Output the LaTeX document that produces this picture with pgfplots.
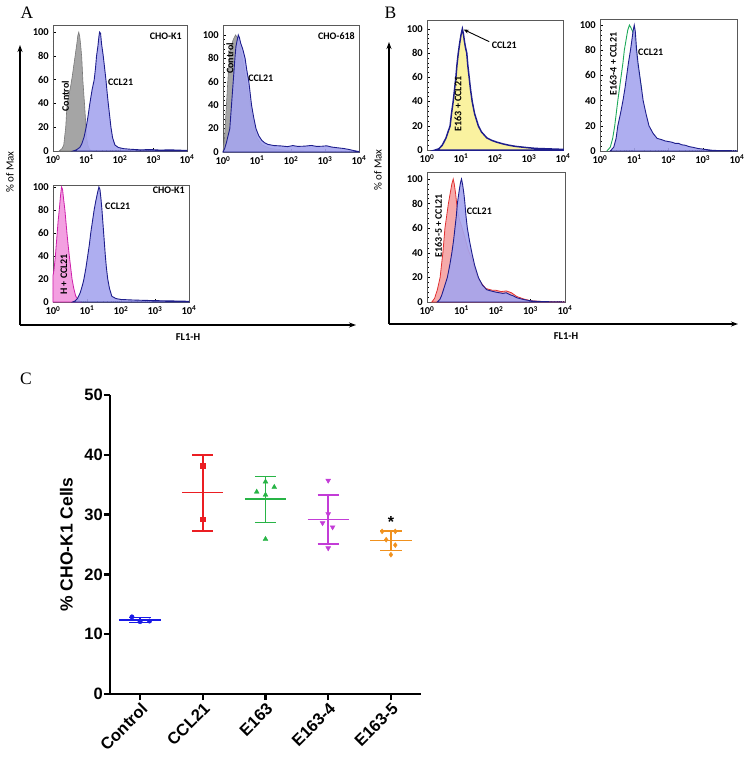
\documentclass[border=0pt]{standalone}
\usepackage{fontspec}
\usepackage{pgfplots}
\pgfplotsset{compat=1.18}
\usetikzlibrary{arrows.meta}
\setmainfont{Carlito}
\newfontfamily\calfont{Carlito}[BoldFont={Carlito Bold}]
\newfontfamily\arialfont{Liberation Sans}
\newfontfamily\seriffont{Liberation Serif}

\definecolor{navy}{RGB}{30,30,140}
\definecolor{lav}{RGB}{165,165,238}
\definecolor{grayfill}{RGB}{165,165,165}
\definecolor{grayline}{RGB}{120,120,120}
\definecolor{magline}{RGB}{205,30,170}
\definecolor{magfill}{RGB}{243,160,225}
\definecolor{yelfill}{RGB}{250,242,160}
\definecolor{grnline}{RGB}{30,170,90}
\definecolor{redline}{RGB}{225,50,50}
\definecolor{redfill}{RGB}{246,170,170}
\definecolor{cblue}{RGB}{25,25,230}
\definecolor{cred}{RGB}{235,30,35}
\definecolor{cgreen}{RGB}{40,180,70}
\definecolor{cmag}{RGB}{195,60,215}
\definecolor{corange}{RGB}{240,145,30}

\tikzset{ann/.style={font=\calfont\bfseries\fontsize{10}{11}\selectfont}}
\pgfplotsset{
 hist/.style={
  scale only axis, xmin=0, xmax=4, ymin=0,
  axis line style={draw=black!65, line width=0.9pt},
  xtick={0,1,2,3,4},
  xticklabels={10\textsuperscript{0},10\textsuperscript{1},10\textsuperscript{2},10\textsuperscript{3},10\textsuperscript{4}},
  minor xtick={0.301,0.477,0.602,0.699,0.778,0.845,0.903,0.954,1.301,1.477,1.602,1.699,1.778,1.845,1.903,1.954,2.301,2.477,2.602,2.699,2.778,2.845,2.903,2.954,3.301,3.477,3.602,3.699,3.778,3.845,3.903,3.954},
  ytick={0,20,40,60,80,100}, yticklabels={0,20,40,60,80,100},
  minor y tick num=4,
  xtick pos=left, ytick pos=left,
  tick align=inside,
  major tick length=3pt, minor tick length=1.5pt,
  every tick/.style={black, line width=0.5pt},
  tick label style={font=\calfont\bfseries\fontsize{10.5}{11}\selectfont, text=black},
  xticklabel style={inner sep=1pt, yshift=-3pt},
  yticklabel style={inner sep=1pt, xshift=-3pt},
  clip=false,
 },
 cbluel/.style={draw=navy, line width=0.9pt, fill=lav, fill opacity=0.9, draw opacity=1},
}

\begin{document}
\begin{tikzpicture}
\path[use as bounding box] (0pt,0pt) rectangle (745pt,-761pt);

% ---------- Panel A ----------
\node[font=\seriffont\fontsize{17.5}{20}\selectfont] at (27pt,-12.5pt) {A};
\draw[line width=1.2pt, -{Stealth[length=7pt,width=5pt]}] (20pt,-325pt) -- (20pt,-45pt);
\draw[line width=1.2pt, -{Stealth[length=7pt,width=5pt]}] (20pt,-325pt) -- (356pt,-325pt);
\node[rotate=90, font=\calfont\fontsize{11}{12}\selectfont] at (10pt,-172pt) {\% of Max};
\node[font=\calfont\bfseries\fontsize{10.5}{12}\selectfont] at (188pt,-337pt) {FL1-H};

% A1
\begin{axis}[hist, at={(53pt,-25pt)}, anchor=north west, width=134pt, height=126pt, ymax=106]
\addplot[draw=grayline, line width=0.6pt, fill=grayfill] coordinates {
(0.18,0) (0.27,2) (0.32,5) (0.38,20) (0.42,40) (0.48,48) (0.53,55) (0.57,62) (0.62,72) (0.66,80) (0.71,90) (0.74,97) (0.77,100) (0.8,96) (0.83,88) (0.86,78) (0.89,60) (0.92,48) (0.95,36) (0.98,22) (1.01,10) (1.05,4) (1.1,1) (1.16,0)} \closedcycle;
\addplot[cbluel] coordinates {
(0.6,0) (0.7,1) (0.8,3) (0.86,6) (0.93,12) (0.99,20) (1.05,30) (1.1,40) (1.17,52) (1.23,60) (1.27,70) (1.3,80) (1.34,88) (1.37,96) (1.39,100) (1.42,99) (1.45,90) (1.5,80) (1.54,70) (1.58,60) (1.62,48) (1.65,40) (1.69,30) (1.73,20) (1.78,11) (1.85,5) (1.95,3) (2.1,2) (2.3,1.5) (2.6,1) (2.9,1.2) (3.2,0.8) (3.5,1) (3.8,0.7) (4,0.5)} \closedcycle;
\node[ann, rotate=90] at (axis cs:0.37,46) {Control};
\node[ann, anchor=west, inner sep=0pt] at (axis cs:1.64,57.6) {CCL21};
\node[ann, anchor=east, inner sep=0pt] at (axis cs:3.85,96.6) {CHO-K1};
\end{axis}

% A2
\begin{axis}[hist, at={(223pt,-25pt)}, anchor=north west, width=136pt, height=127pt, ymax=108.5]
\addplot[draw=grayline, line width=0.6pt, fill=grayfill] coordinates {
(0,0) (0.04,10) (0.1,40) (0.16,70) (0.22,88) (0.3,96) (0.37,100) (0.44,97) (0.5,90) (0.6,75) (0.7,58) (0.8,40) (0.9,24) (1.0,12) (1.15,6) (1.4,3) (2,1) (3,0.5) (4,0)} \closedcycle;
\addplot[cbluel] coordinates {
(0,0) (0.05,3) (0.1,8) (0.15,14) (0.2,20) (0.25,40) (0.3,60) (0.35,80) (0.38,90) (0.42,96) (0.45,100) (0.48,98) (0.52,93) (0.58,88) (0.65,80) (0.7,70) (0.76,60) (0.8,50) (0.84,40) (0.9,30) (0.97,20) (1.05,14) (1.14,10) (1.22,8) (1.32,6.5) (1.5,5.5) (1.7,5.2) (1.9,4.6) (2.05,5.5) (2.2,4.8) (2.4,5) (2.6,5.6) (2.75,4.8) (2.9,4.9) (3.05,5.3) (3.2,4.2) (3.4,3.5) (3.55,3) (3.7,2.2) (3.85,1.2) (4,0.4)} \closedcycle;
\node[ann, rotate=90] at (axis cs:0.2,80) {Control};
\node[ann, anchor=west, inner sep=0pt] at (axis cs:0.74,63) {CCL21};
\node[ann, anchor=east, inner sep=0pt] at (axis cs:3.88,99) {CHO-618};
\end{axis}

% A3
\begin{axis}[hist, at={(53pt,-185pt)}, anchor=north west, width=136pt, height=117pt, ymax=101.7]
\addplot[draw=magline, line width=0.8pt, fill=magfill] coordinates {
(0,0) (0,23) (0.03,28) (0.07,40) (0.11,55) (0.15,70) (0.19,82) (0.22,92) (0.25,100) (0.28,98) (0.31,90) (0.35,80) (0.38,70) (0.41,60) (0.45,48) (0.48,40) (0.52,30) (0.56,20) (0.61,12) (0.67,5) (0.74,2) (0.82,0)} \closedcycle;
\addplot[cbluel] coordinates {
(0.58,0) (0.65,1) (0.72,3) (0.8,8) (0.87,15) (0.91,20) (0.97,30) (1.02,40) (1.07,50) (1.11,60) (1.16,70) (1.21,80) (1.26,88) (1.31,95) (1.35,100) (1.38,98) (1.41,90) (1.44,80) (1.47,68) (1.49,60) (1.52,48) (1.54,40) (1.57,30) (1.61,20) (1.66,12) (1.73,5) (1.85,3) (2.0,2.2) (2.3,1.8) (2.6,1.5) (3.0,1.2) (3.4,1) (3.8,0.8) (4,0.6)} \closedcycle;
\node[ann, rotate=90] at (axis cs:0.32,24) {H + CCL21};
\node[ann, anchor=west, inner sep=0pt] at (axis cs:1.53,83) {CCL21};
\node[ann, anchor=east, inner sep=0pt] at (axis cs:3.88,97) {CHO-K1};
\end{axis}

% ---------- Panel B ----------
\node[font=\seriffont\fontsize{17.5}{20}\selectfont] at (390.5pt,-12.5pt) {B};
\draw[line width=1.2pt, -{Stealth[length=7pt,width=5pt]}] (389pt,-324pt) -- (389pt,-42pt);
\draw[line width=1.2pt, -{Stealth[length=7pt,width=5pt]}] (389pt,-324pt) -- (738pt,-324pt);
\node[rotate=90, font=\calfont\fontsize{11}{12}\selectfont] at (378pt,-170pt) {\% of Max};
\node[font=\calfont\bfseries\fontsize{10.5}{12}\selectfont] at (566pt,-336pt) {FL1-H};

% B1
\begin{axis}[hist, at={(427pt,-20pt)}, anchor=north west, width=136pt, height=130pt, ymax=107.4]
\addplot[draw=navy, line width=1.5pt, fill=yelfill] coordinates {
(0.24,0) (0.35,1) (0.45,4) (0.56,10) (0.62,15) (0.68,20) (0.72,30) (0.77,40) (0.81,50) (0.85,60) (0.88,70) (0.92,80) (0.96,88) (1.0,95) (1.04,100) (1.07,96) (1.1,90) (1.13,85) (1.17,80) (1.2,70) (1.24,60) (1.28,50) (1.33,40) (1.4,30) (1.51,20) (1.6,15) (1.76,10) (1.9,8) (2.05,6.5) (2.24,5) (2.4,4) (2.6,3) (2.93,2) (3.2,1.3) (3.5,1) (4,0.5)} \closedcycle;
\node[ann, rotate=90] at (axis cs:0.91,38) {E163 + CCL21};
\node[ann, anchor=west, inner sep=0pt] at (axis cs:1.9,86.8) {CCL21};
\draw[line width=0.9pt, -{Stealth[length=5pt,width=4pt]}] (axis cs:1.83,89.5) -- (axis cs:1.08,99.5);
\end{axis}

% B2
\begin{axis}[hist, at={(600pt,-19pt)}, anchor=north west, width=137pt, height=132pt, ymax=104.8]
\addplot[draw=grnline, line width=0.9pt] coordinates {
(0.2,0) (0.3,3) (0.37,10) (0.43,20) (0.52,40) (0.57,50) (0.62,60) (0.67,70) (0.71,80) (0.76,88) (0.81,96) (0.86,100) (0.9,98) (0.95,95) (1.0,92) (1.05,80) (1.1,68) (1.16,58) (1.22,48)};
\addplot[cbluel] coordinates {
(0.3,0) (0.4,3) (0.47,10) (0.52,20) (0.6,30) (0.67,40) (0.73,50) (0.78,60) (0.83,70) (0.89,80) (0.94,90) (0.97,96) (1.0,100) (1.03,95) (1.07,80) (1.11,70) (1.16,60) (1.21,50) (1.26,40) (1.34,30) (1.43,20) (1.55,14) (1.67,10) (1.8,9) (1.9,8) (2.0,7.5) (2.1,7) (2.2,6) (2.3,6) (2.38,5) (2.5,4.5) (2.6,3.5) (2.7,3) (2.86,2) (3.0,1.5) (3.3,0.5) (3.6,0.3) (4,0.2)} \closedcycle;
\node[ann, rotate=90] at (axis cs:0.39,69) {E163-4 + CCL21};
\node[ann, anchor=west, inner sep=0pt] at (axis cs:1.11,78.6) {CCL21};
\end{axis}

% B3
\begin{axis}[hist, at={(427pt,-172pt)}, anchor=north west, width=138pt, height=130pt, ymax=105.7]
\addplot[draw=redline, line width=0.8pt, fill=redfill] coordinates {
(0.14,0) (0.22,3) (0.3,10) (0.38,20) (0.42,30) (0.46,40) (0.49,50) (0.52,60) (0.57,70) (0.62,80) (0.67,88) (0.72,96) (0.76,100) (0.79,96) (0.83,88) (0.86,80) (0.9,72) (0.95,66) (1.0,62) (1.1,52) (1.2,42) (1.3,35) (1.4,25) (1.5,18) (1.7,11) (1.9,9.5) (2.0,9.5) (2.15,8.5) (2.3,9) (2.45,7.5) (2.6,4.5) (2.8,2.5) (3.0,1) (3.3,0.5) (4,0)} \closedcycle;
\addplot[cbluel] coordinates {
(0.3,0) (0.37,2) (0.42,5) (0.5,12) (0.59,20) (0.66,30) (0.72,40) (0.77,50) (0.81,60) (0.85,70) (0.88,80) (0.93,90) (0.97,97) (1.0,100) (1.03,96) (1.07,88) (1.1,80) (1.13,70) (1.17,60) (1.23,50) (1.3,40) (1.38,30) (1.49,20) (1.6,14) (1.73,10) (1.85,9) (2.0,8) (2.1,7.5) (2.2,7) (2.3,7.5) (2.4,6) (2.5,5) (2.6,3.5) (2.8,2) (3.0,1) (3.2,0.5) (3.6,0.2) (4,0)} \closedcycle;
\node[ann, rotate=90] at (axis cs:0.33,62) {E163-5 + CCL21};
\node[ann, anchor=west, inner sep=0pt] at (axis cs:1.15,74) {CCL21};
\end{axis}

% ---------- Panel C ----------
\node[font=\seriffont\fontsize{17.5}{20}\selectfont] at (26pt,-379pt) {C};
\begin{axis}[at={(110pt,-694pt)}, anchor=south west, scale only axis, width=311pt, height=299pt,
 xmin=-0.48, xmax=4.48, ymin=0, ymax=50,
 axis x line*=bottom, axis y line*=left,
 axis line style={line width=2.3pt, -},
 xtick={0,1,2,3,4}, xticklabels={Control,CCL21,E163,E163-4,E163-5},
 ytick={0,10,20,30,40,50}, yticklabels={0,10,20,30,40,50},
 tick align=outside, major tick length=6pt,
 every tick/.style={black, line width=2.3pt},
 tick label style={font=\arialfont\bfseries\fontsize{16.5}{18}\selectfont},
 xticklabel style={rotate=45, anchor=north east, inner sep=1pt},
 yticklabel style={inner sep=1pt},
 ylabel={\% CHO-K1 Cells},
 every axis y label/.style={at={(axis description cs:-0.14,0.5)}, rotate=90, anchor=center, font=\arialfont\bfseries\fontsize{17.5}{19}\selectfont},
 clip=false]
% Control
\addplot[cblue, line width=1.5pt, no marks] coordinates {(-0.33,12.4) (0.33,12.4)};
\addplot[cblue, line width=1.2pt, no marks] coordinates {(0,12.0) (0,12.8)};
\addplot[cblue, line width=1.2pt, no marks] coordinates {(-0.17,12.8) (0.17,12.8)};
\addplot[cblue, line width=1.2pt, no marks] coordinates {(-0.17,12.0) (0.17,12.0)};
\addplot[cblue, only marks, mark=*, mark size=2.2pt] coordinates {(-0.13,12.9) (0,12.1) (0.15,12.2)};
% CCL21
\addplot[cred, line width=1.5pt, no marks] coordinates {(0.67,33.7) (1.33,33.7)};
\addplot[cred, line width=1.5pt, no marks] coordinates {(1,27.3) (1,40.0)};
\addplot[cred, line width=1.5pt, no marks] coordinates {(0.83,40.0) (1.17,40.0)};
\addplot[cred, line width=1.5pt, no marks] coordinates {(0.83,27.3) (1.17,27.3)};
\addplot[cred, only marks, mark=square*, mark size=2.3pt] coordinates {(1,38.2) (1,29.2)};
% E163
\addplot[cgreen, line width=1.5pt, no marks] coordinates {(1.67,32.6) (2.33,32.6)};
\addplot[cgreen, line width=1.5pt, no marks] coordinates {(2,28.7) (2,36.4)};
\addplot[cgreen, line width=1.5pt, no marks] coordinates {(1.83,36.4) (2.17,36.4)};
\addplot[cgreen, line width=1.5pt, no marks] coordinates {(1.83,28.7) (2.17,28.7)};
\addplot[cgreen, only marks, mark=triangle*, mark size=2.8pt] coordinates {(1.86,33.8) (2,35.5) (2.14,34.6) (2,33.3) (2,25.9)};
% E163-4
\addplot[cmag, line width=1.5pt, no marks] coordinates {(2.67,29.2) (3.33,29.2)};
\addplot[cmag, line width=1.5pt, no marks] coordinates {(3,25.1) (3,33.3)};
\addplot[cmag, line width=1.5pt, no marks] coordinates {(2.83,33.3) (3.17,33.3)};
\addplot[cmag, line width=1.5pt, no marks] coordinates {(2.83,25.1) (3.17,25.1)};
\addplot[cmag, only marks, mark=triangle*, mark size=2.8pt, mark options={rotate=180}] coordinates {(3,35.7) (3,30.1) (2.91,28.6) (3.07,27.9) (3,24.4)};
% E163-5
\addplot[corange, line width=1.5pt, no marks] coordinates {(3.67,25.7) (4.33,25.7)};
\addplot[corange, line width=1.5pt, no marks] coordinates {(4,24.0) (4,27.3)};
\addplot[corange, line width=1.5pt, no marks] coordinates {(3.83,27.3) (4.17,27.3)};
\addplot[corange, line width=1.5pt, no marks] coordinates {(3.83,24.0) (4.17,24.0)};
\addplot[corange, only marks, mark=diamond*, mark size=2.5pt] coordinates {(3.86,27.2) (4.07,27.2) (3.925,25.8) (4.07,24.9) (4,23.3)};
\node[font=\arialfont\bfseries\fontsize{16}{18}\selectfont] at (axis cs:4,28.8) {*};
\end{axis}
\end{tikzpicture}
\end{document}
